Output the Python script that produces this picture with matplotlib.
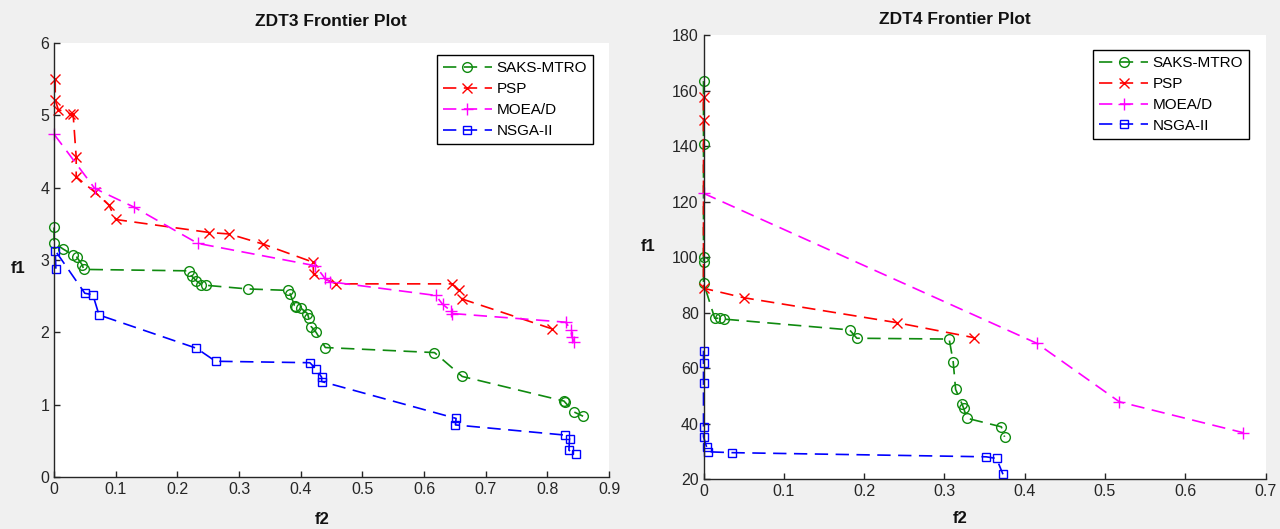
import matplotlib
matplotlib.use("Agg")
import matplotlib.pyplot as plt

plt.rcParams['font.family'] = ['Liberation Sans', 'DejaVu Sans']

series_names = ["SAKS-MTRO", "PSP", "MOEA/D", "NSGA-II"]

# ---- ZDT3 data (x = f2, y = f1) ----
zdt3_saks_x = [0, 0, 0.015, 0.031, 0.037, 0.046, 0.048, 0.219, 0.223, 0.231, 0.239, 0.247,
               0.314, 0.379, 0.383, 0.390, 0.393, 0.401, 0.411, 0.413, 0.417, 0.425, 0.440,
               0.617, 0.662, 0.827, 0.828, 0.843, 0.858]
zdt3_saks_y = [3.45, 3.24, 3.15, 3.07, 3.04, 2.93, 2.87, 2.85, 2.78, 2.71, 2.66, 2.65,
               2.60, 2.58, 2.53, 2.37, 2.35, 2.33, 2.26, 2.20, 2.08, 2.00, 1.79,
               1.72, 1.39, 1.05, 1.04, 0.90, 0.84]
zdt3_psp_x = [0.002, 0.002, 0.007, 0.026, 0.031, 0.036, 0.036, 0.066, 0.089, 0.100, 0.252,
              0.284, 0.339, 0.420, 0.421, 0.458, 0.646, 0.656, 0.662, 0.807]
zdt3_psp_y = [5.50, 5.21, 5.08, 5.02, 5.02, 4.42, 4.15, 3.94, 3.76, 3.56, 3.38,
              3.36, 3.22, 2.97, 2.80, 2.67, 2.67, 2.58, 2.46, 2.05]
zdt3_moead_x = [0, 0.066, 0.130, 0.233, 0.424, 0.439, 0.447, 0.619, 0.630, 0.643, 0.646,
                0.830, 0.838, 0.840, 0.843]
zdt3_moead_y = [4.74, 3.99, 3.73, 3.23, 2.92, 2.75, 2.70, 2.51, 2.39, 2.30, 2.26,
                2.14, 2.03, 1.94, 1.87]
zdt3_nsga_x = [0.003, 0.002, 0.050, 0.063, 0.073, 0.231, 0.262, 0.415, 0.425, 0.434, 0.434,
               0.652, 0.651, 0.828, 0.836, 0.835, 0.846]
zdt3_nsga_y = [2.88, 3.13, 2.54, 2.52, 2.24, 1.78, 1.60, 1.58, 1.49, 1.38, 1.32,
               0.81, 0.72, 0.58, 0.53, 0.37, 0.32]

# ---- ZDT4 data ----
zdt4_saks_x = [0, 0, 0, 0, 0, 0.014, 0.021, 0.025, 0.182, 0.191, 0.306, 0.311, 0.314,
               0.322, 0.324, 0.328, 0.371, 0.375]
zdt4_saks_y = [163.4, 140.7, 100.2, 98.4, 90.8, 78.0, 78.0, 77.7, 73.8, 70.8, 70.5, 62.3,
               52.4, 47.1, 45.6, 42.0, 38.9, 35.3]
zdt4_psp_x = [0, 0, 0, 0.050, 0.241, 0.337]
zdt4_psp_y = [157.6, 149.4, 88.8, 85.4, 76.4, 71.0]
zdt4_moead_x = [0, 0.415, 0.518, 0.672]
zdt4_moead_y = [123.0, 69.0, 47.9, 36.8]
zdt4_nsga_x = [0, 0, 0, 0, 0, 0.004, 0.006, 0.035, 0.352, 0.365, 0.373]
zdt4_nsga_y = [66.3, 62.0, 54.8, 38.9, 35.3, 31.5, 29.9, 29.6, 28.1, 27.5, 21.8]

zdt3_xticks = [0, 0.1, 0.2, 0.3, 0.4, 0.5, 0.6, 0.7, 0.8, 0.9]
zdt3_xticklabels = ["0", "0.1", "0.2", "0.3", "0.4", "0.5", "0.6", "0.7", "0.8", "0.9"]
zdt3_yticks = [0, 1, 2, 3, 4, 5, 6]
zdt4_xticks = [0, 0.1, 0.2, 0.3, 0.4, 0.5, 0.6, 0.7]
zdt4_xticklabels = ["0", "0.1", "0.2", "0.3", "0.4", "0.5", "0.6", "0.7"]
zdt4_yticks = [20, 40, 60, 80, 100, 120, 140, 160, 180]

styles = [
    dict(color="#0f8a0f", marker="o", markersize=7, markerfacecolor="none"),
    dict(color="#ff0000", marker="x", markersize=6.5),
    dict(color="#ff00ff", marker="+", markersize=8),
    dict(color="#0000ff", marker="s", markersize=5.5, markerfacecolor="none"),
]

W, H = 1280, 529
fig = plt.figure(figsize=(W / 100, H / 100), dpi=100, facecolor="#f0f0f0")

def px_axes(x0, x1, ytop, ybot):
    return fig.add_axes([x0 / W, 1 - ybot / H, (x1 - x0) / W, (ybot - ytop) / H])

ax1 = px_axes(54, 609, 43, 477)
ax2 = px_axes(703.5, 1265.5, 35, 479.3)

def draw(ax, data, xlim, ylim, xticks, xlabels, yticks, title, title_xy, f1_xy, f2_xy, leg_anchor):
    for (xs, ys), name, st in zip(data, series_names, styles):
        ax.plot(xs, ys, linestyle=(0, (8, 4.5)), linewidth=1.2, markeredgewidth=1.0,
                label=name, clip_on=False, **st)
    ax.set_xlim(*xlim)
    ax.set_ylim(*ylim)
    ax.set_xticks(xticks)
    ax.set_xticklabels(xlabels)
    ax.set_yticks(yticks)
    ax.tick_params(direction="in", length=4, width=1, labelsize=11.5, colors="#262626")
    for s in ["top", "right"]:
        ax.spines[s].set_visible(False)
    for s in ["left", "bottom"]:
        ax.spines[s].set_color("#262626")
        ax.spines[s].set_linewidth(1.0)
    ax.set_facecolor("white")
    ax.text(title_xy[0], title_xy[1], title, transform=ax.transAxes, ha="center", va="center",
            fontsize=12.5, fontweight="bold", color="#111111")
    ax.text(f1_xy[0], f1_xy[1], "f1", transform=ax.transAxes, ha="center", va="center",
            fontsize=12, fontweight="bold", color="#111111")
    ax.text(f2_xy[0], f2_xy[1], "f2", transform=ax.transAxes, ha="center", va="center",
            fontsize=12, fontweight="bold", color="#111111")
    leg = ax.legend(loc="upper right", bbox_to_anchor=leg_anchor, borderaxespad=0,
                    fontsize=11, handlelength=3.2, handletextpad=0.3, labelspacing=0.45,
                    borderpad=0.4, fancybox=False, framealpha=1, edgecolor="black",
                    numpoints=1)
    leg.get_frame().set_linewidth(1.0)

draw(ax1,
     [(zdt3_saks_x, zdt3_saks_y), (zdt3_psp_x, zdt3_psp_y),
      (zdt3_moead_x, zdt3_moead_y), (zdt3_nsga_x, zdt3_nsga_y)],
     (0, 0.9), (0, 6), zdt3_xticks, zdt3_xticklabels, zdt3_yticks,
     "ZDT3 Frontier Plot", (0.499, 1.05), (-0.065, 0.48), (0.483, -0.099), (0.971, 0.972))

draw(ax2,
     [(zdt4_saks_x, zdt4_saks_y), (zdt4_psp_x, zdt4_psp_y),
      (zdt4_moead_x, zdt4_moead_y), (zdt4_nsga_x, zdt4_nsga_y)],
     (0, 0.7), (20, 180), zdt4_xticks, zdt4_xticklabels, zdt4_yticks,
     "ZDT4 Frontier Plot", (0.4475, 1.035), (-0.099, 0.523), (0.456, -0.089), (0.971, 0.966))

fig.savefig("out.png", dpi=100, facecolor=fig.get_facecolor())
